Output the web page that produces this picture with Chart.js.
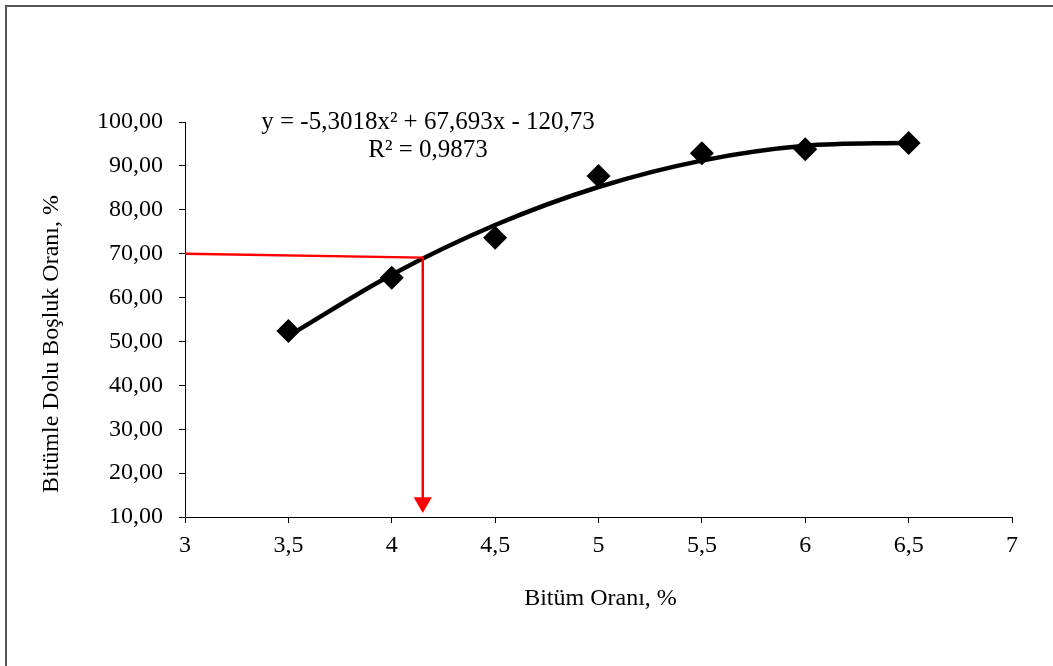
<!DOCTYPE html>
<html>
<head>
<meta charset="utf-8">
<script src="https://cdn.jsdelivr.net/npm/chart.js@4"></script>
<style>
  html, body { margin: 0; padding: 0; background: #fff; }
  #wrap { width: 1053px; height: 666px; }
</style>
</head>
<body>
<div id="wrap"><canvas id="chart" width="1053" height="666"></canvas></div>
<script>
// Bitumen content (%) vs. voids filled with bitumen (%)
const bitumenContent = [3.5, 4, 4.5, 5, 5.5, 6, 6.5];
const vfbValues = [52.4, 64.5, 73.6, 87.7, 92.9, 93.8, 95.2];

// Second-order trendline: y = a*x^2 + b*x + c
const trendCoefficients = [-5.3018, 67.693, -120.73];
const trendText = ['y = -5,3018x² + 67,693x - 120,73', 'R² = 0,9873'];

// Red guide: from VFB = 70 % across to the curve, then down to the x axis
const guideX = [3, 4.15, 4.15];
const guideY = [70, 69.1, 13.3];

// Axis ticks
const xTickValues = [3, 3.5, 4, 4.5, 5, 5.5, 6, 6.5, 7];
const xTickLabels = ['3', '3,5', '4', '4,5', '5', '5,5', '6', '6,5', '7'];
const yTickValues = [10, 20, 30, 40, 50, 60, 70, 80, 90, 100];
const yTickLabels = ['10,00', '20,00', '30,00', '40,00', '50,00', '60,00', '70,00', '80,00', '90,00', '100,00'];

const xTitle = 'Bitüm Oranı, %';
const yTitle = 'Bitümle Dolu Boşluk Oranı, %';

const FONT = 'Liberation Serif, Times New Roman, serif';

const trendAt = x => trendCoefficients[0] * x * x + trendCoefficients[1] * x + trendCoefficients[2];

const framePlugin = {
  id: 'frame',
  beforeDraw(chart) {
    const ctx = chart.ctx;
    ctx.save();
    ctx.fillStyle = '#fff';
    ctx.fillRect(0, 0, chart.width, chart.height);
    ctx.strokeStyle = '#555';
    ctx.lineWidth = 2;
    ctx.beginPath();
    ctx.moveTo(6, chart.height + 10);
    ctx.lineTo(6, 6);
    ctx.lineTo(chart.width + 10, 6);
    ctx.stroke();
    ctx.restore();
  },
  afterDraw(chart) {
    const ctx = chart.ctx;
    const area = chart.chartArea;
    ctx.save();
    ctx.fillStyle = '#000';
    ctx.textAlign = 'center';
    ctx.textBaseline = 'alphabetic';
    ctx.font = '25px ' + FONT;
    ctx.fillText(trendText[0], 428, 129);
    ctx.fillText(trendText[1], 428, 157);

    ctx.font = '24px ' + FONT;
    ctx.fillText(xTitle, (area.left + area.right) / 2 + 2, 605);

    ctx.translate(58, 344);
    ctx.rotate(-Math.PI / 2);
    ctx.fillText(yTitle, 0, 0);
    ctx.restore();
  }
};

const axisCommon = {
  type: 'linear',
  grid: { drawOnChartArea: false, drawTicks: true, tickLength: 6, color: '#000', lineWidth: 1 },
  border: { display: true, color: '#000', width: 1 },
};

new Chart(document.getElementById('chart'), {
  type: 'scatter',
  data: {
    datasets: [
      {
        type: 'line',
        data: guideX.map((x, i) => ({ x, y: guideY[i] })),
        showLine: true,
        borderColor: '#ff0000',
        borderWidth: 2.5,
        pointRadius: [0, 0, 10.5],
        pointStyle: 'triangle',
        rotation: 180,
        pointBackgroundColor: '#ff0000',
        pointBorderColor: '#ff0000',
        pointBorderWidth: 0,
        tension: 0,
        clip: false
      },
      {
        type: 'line',
        data: bitumenContent.map(x => ({ x, y: trendAt(x) })),
        showLine: true,
        borderColor: '#000',
        borderWidth: 4.5,
        pointRadius: 0,
        cubicInterpolationMode: 'monotone',
        clip: false
      },
      {
        data: bitumenContent.map((x, i) => ({ x, y: vfbValues[i] })),
        showLine: false,
        pointStyle: 'rectRot',
        pointRadius: 12,
        backgroundColor: '#000',
        borderColor: '#000',
        borderWidth: 0,
        clip: false
      }
    ]
  },
  options: {
    responsive: false,
    animation: false,
    events: [],
    layout: { padding: { top: 122, right: 41, left: 0, bottom: 0 } },
    plugins: { legend: { display: false }, tooltip: { enabled: false }, title: { display: false } },
    scales: {
      x: Object.assign({}, axisCommon, {
        min: 3, max: 7,
        afterBuildTicks(s) { s.ticks = xTickValues.map(v => ({ value: v })); },
        afterFit(s) { s.height = 149; },
        ticks: {
          autoSkip: false, maxRotation: 0, padding: 8, color: '#000',
          font: { family: FONT, size: 24 },
          callback: (v, i) => xTickLabels[i]
        }
      }),
      y: Object.assign({}, axisCommon, {
        min: 10, max: 100,
        afterBuildTicks(s) { s.ticks = yTickValues.map(v => ({ value: v })); },
        afterFit(s) { s.width = 185; },
        ticks: {
          autoSkip: false, padding: 16, color: '#000',
          font: { family: FONT, size: 24 },
          callback: (v, i) => yTickLabels[i]
        }
      })
    }
  },
  plugins: [framePlugin]
});
</script>
</body>
</html>
